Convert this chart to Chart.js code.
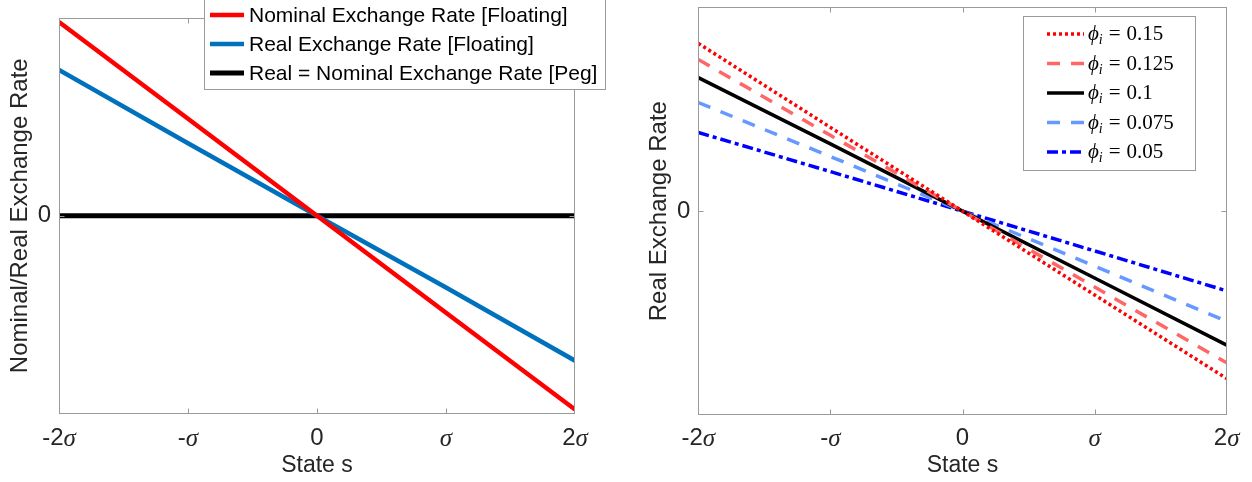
<!DOCTYPE html>
<html>
<head>
<meta charset="utf-8">
<script src="https://cdn.jsdelivr.net/npm/chart.js@4.4.0/dist/chart.umd.min.js"></script>
<style>
  html, body { margin: 0; padding: 0; background: #fff; }
  #wrap { position: relative; width: 1252px; height: 482px; overflow: hidden; }
  #left { position: absolute; left: 0; top: 0; }
  #right { position: absolute; left: 639px; top: 0; }
</style>
</head>
<body>
<div id="wrap">
  <canvas id="left" width="626" height="482"></canvas>
  <canvas id="right" width="613" height="482"></canvas>
</div>
<script>
// x axis: state s in units of sigma
const states = [-2, -1, 0, 1, 2];
const xTickLabels = ["-2σ", "-σ", "0", "σ", "2σ"];
const yTicks = [0];

// left panel
const nominalFloating = [0.977, 0.489, 0, -0.489, -0.977];
const realFloating = [0.735, 0.366, 0, -0.362, -0.731];
const pegRate = [0, 0, 0, 0, 0];

// right panel, real exchange rate for different phi_i
const phiLabels = ["0.15", "0.125", "0.1", "0.075", "0.05"];
const rerPhi150 = [0.823, 0.411, 0, -0.411, -0.821];
const rerPhi125 = [0.744, 0.372, 0, -0.372, -0.744];
const rerPhi100 = [0.655, 0.330, 0, -0.328, -0.657];
const rerPhi075 = [0.533, 0.268, 0, -0.270, -0.540];
const rerPhi050 = [0.386, 0.194, 0, -0.195, -0.391];

const SANS = "'Liberation Sans', Arial, Helvetica, sans-serif";
const SERIF = "'Liberation Serif', 'DejaVu Serif', serif";
const AXIS_GREY = "#9a9a9a";
const TEXT = "#262626";

const toPoints = (ys) => states.map((x, i) => ({ x: x, y: ys[i] }));

// MATLAB-like box, inward ticks and "nσ" tick labels
function boxPlugin(drawLegend) {
  return {
    id: "matlabBox",
    afterDatasetsDraw(chart) {
      const { ctx, chartArea: a, scales } = chart;
      const x = scales.x;
      const y = scales.y;
      const L = Math.round(a.left) + 0.5;
      const R = Math.round(a.right) - 0.5;
      const T = Math.round(a.top) + 0.5;
      const B = Math.round(a.bottom) - 0.5;
      ctx.save();
      ctx.strokeStyle = AXIS_GREY;
      ctx.lineWidth = 1;
      ctx.strokeRect(L, T, R - L, B - T);
      ctx.beginPath();
      x.ticks.forEach((t) => {
        const px = Math.round(x.getPixelForValue(t.value)) + 0.5;
        if (px <= L + 1 || px >= R - 1) return;
        ctx.moveTo(px, B); ctx.lineTo(px, B - 5);
        ctx.moveTo(px, T); ctx.lineTo(px, T + 5);
      });
      y.ticks.forEach((t) => {
        const py = Math.round(y.getPixelForValue(t.value)) + 0.5;
        ctx.moveTo(L, py); ctx.lineTo(L + 5, py);
        ctx.moveTo(R, py); ctx.lineTo(R - 5, py);
      });
      ctx.stroke();

      // tick labels: digits upright sans, sigma italic serif
      ctx.fillStyle = TEXT;
      ctx.textBaseline = "middle";
      ctx.textAlign = "left";
      const sansFont = "24px " + SANS;
      const sigFont = "italic 25px " + SERIF;
      x.ticks.forEach((t, i) => {
        const label = xTickLabels[i];
        const k = label.indexOf("σ");
        const pre = k < 0 ? label : label.slice(0, k);
        ctx.font = sansFont;
        const w1 = ctx.measureText(pre).width;
        ctx.font = sigFont;
        const w2 = k < 0 ? 0 : ctx.measureText("σ").width;
        const px = x.getPixelForValue(t.value);
        const sx = px - (w1 + w2) / 2;
        ctx.font = sansFont;
        ctx.fillText(pre, sx, 438);
        if (k >= 0) {
          ctx.font = sigFont;
          ctx.fillText("σ", sx + w1, 439);
        }
      });
      ctx.restore();
      drawLegend(ctx, chart);
    },
  };
}

function sampleLine(ctx, ds, x0, x1, yy) {
  ctx.save();
  ctx.strokeStyle = ds.borderColor;
  ctx.lineWidth = ds.borderWidth;
  ctx.setLineDash(ds.borderDash || []);
  ctx.beginPath();
  ctx.moveTo(x0, yy);
  ctx.lineTo(x1, yy);
  ctx.stroke();
  ctx.restore();
}

function leftLegend(ctx, chart) {
  ctx.save();
  ctx.fillStyle = "#fff";
  ctx.fillRect(204.5, -1.5, 401, 91);
  ctx.strokeStyle = AXIS_GREY;
  ctx.lineWidth = 1;
  ctx.strokeRect(204.5, -1.5, 401, 91);
  const rows = [15, 44, 73];
  chart.data.datasets.forEach((ds, i) => {
    sampleLine(ctx, ds, 210, 244, rows[i]);
    ctx.fillStyle = "#000";
    ctx.font = "21px " + SANS;
    ctx.textBaseline = "middle";
    ctx.fillText(ds.label, 249, rows[i] + 1);
  });
  ctx.restore();
}

function rightLegend(ctx, chart) {
  ctx.save();
  ctx.fillStyle = "#fff";
  ctx.fillRect(384.5, 16.5, 172, 154);
  ctx.strokeStyle = AXIS_GREY;
  ctx.lineWidth = 1;
  ctx.strokeRect(384.5, 16.5, 172, 154);
  const rows = [34, 63.5, 93, 122.5, 152];
  chart.data.datasets.forEach((ds, i) => {
    sampleLine(ctx, ds, 408, 445, rows[i]);
    ctx.fillStyle = "#000";
    ctx.textBaseline = "alphabetic";
    const base = rows[i] + 6;
    let tx = 449;
    ctx.font = "italic 21px " + SERIF;
    ctx.fillText("ϕ", tx, base);
    tx += ctx.measureText("ϕ").width;
    ctx.font = "italic 14px " + SERIF;
    ctx.fillText("i", tx, base + 4);
    tx += ctx.measureText("i").width + 6;
    ctx.font = "21px " + SERIF;
    ctx.fillText("=", tx, base);
    tx += ctx.measureText("=").width + 6;
    ctx.fillText(phiLabels[i], tx, base);
  });
  ctx.restore();
}

function makeScales(yTitle, xHeight, yWidth) {
  return {
    x: {
      type: "linear",
      min: -2,
      max: 2,
      afterBuildTicks: (s) => { s.ticks = states.map((v) => ({ value: v })); },
      afterFit: (s) => { s.height = xHeight; s.paddingLeft = 0; s.paddingRight = 0; },
      grid: { display: false },
      border: { display: false },
      ticks: { display: false },
      title: {
        display: true,
        text: "State s",
        color: TEXT,
        font: { family: SANS, size: 23 },
        padding: { top: 0, bottom: 3 },
      },
    },
    y: {
      type: "linear",
      min: -1,
      max: 1,
      afterBuildTicks: (s) => { s.ticks = yTicks.map((v) => ({ value: v })); },
      afterFit: (s) => { s.width = yWidth; s.paddingTop = 0; s.paddingBottom = 0; },
      grid: { display: false },
      border: { display: false },
      ticks: { color: TEXT, font: { family: SANS, size: 24 }, padding: 0 },
      title: {
        display: true,
        text: yTitle,
        color: TEXT,
        font: { family: SANS, size: 24 },
        padding: { top: 6, bottom: 0 },
      },
    },
  };
}

const common = {
  responsive: false,
  animation: false,
  events: [],
  elements: { point: { radius: 0 }, line: { tension: 0 } },
  plugins: { legend: { display: false }, tooltip: { enabled: false } },
};

new Chart(document.getElementById("left"), {
  type: "line",
  data: {
    datasets: [
      { label: "Nominal Exchange Rate [Floating]", data: toPoints(nominalFloating), borderColor: "#ff0000", borderWidth: 4.5, fill: false },
      { label: "Real Exchange Rate [Floating]", data: toPoints(realFloating), borderColor: "#0072bd", borderWidth: 4.5, fill: false },
      { label: "Real = Nominal Exchange Rate [Peg]", data: toPoints(pegRate), borderColor: "#000000", borderWidth: 5, fill: false },
    ],
  },
  options: {
    ...common,
    layout: { padding: { left: 0, top: 17.5, right: 51, bottom: 0 } },
    scales: makeScales("Nominal/Real Exchange Rate", 68, 59),
  },
  plugins: [boxPlugin(leftLegend)],
});

new Chart(document.getElementById("right"), {
  type: "line",
  data: {
    datasets: [
      { label: "phi 0.15", data: toPoints(rerPhi150), borderColor: "#ff0000", borderWidth: 3.5, borderDash: [3, 3], fill: false },
      { label: "phi 0.125", data: toPoints(rerPhi125), borderColor: "#ff6666", borderWidth: 3.5, borderDash: [13, 11], fill: false },
      { label: "phi 0.1", data: toPoints(rerPhi100), borderColor: "#000000", borderWidth: 3.5, fill: false },
      { label: "phi 0.075", data: toPoints(rerPhi075), borderColor: "#6699ff", borderWidth: 3.5, borderDash: [13, 11], fill: false },
      { label: "phi 0.05", data: toPoints(rerPhi050), borderColor: "#0000ff", borderWidth: 3.5, borderDash: [11, 4, 4, 4], fill: false },
    ],
  },
  options: {
    ...common,
    layout: { padding: { left: 0, top: 7.3, right: 25.3, bottom: 0 } },
    scales: makeScales("Real Exchange Rate", 67, 59.3),
  },
  plugins: [boxPlugin(rightLegend)],
});
</script>
</body>
</html>
